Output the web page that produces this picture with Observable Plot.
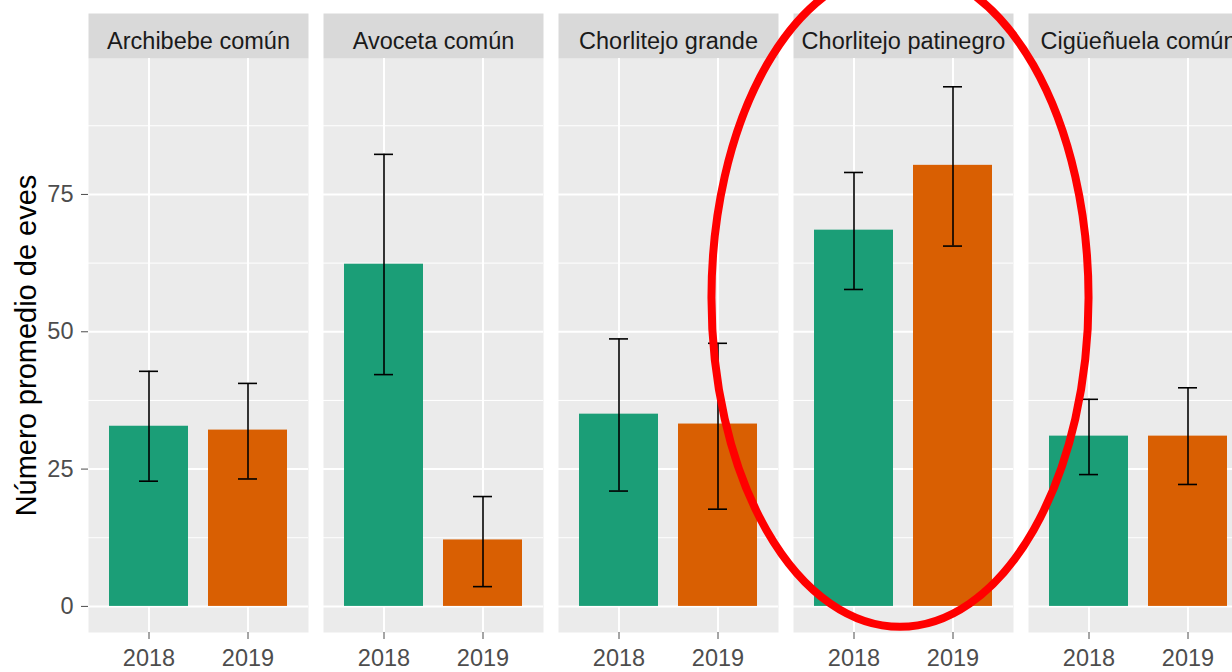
<!DOCTYPE html>
<html><head><meta charset="utf-8">
<script src="https://cdn.jsdelivr.net/npm/d3@7"></script>
<script src="https://cdn.jsdelivr.net/npm/@observablehq/plot@0.6"></script>
<style>
html,body{margin:0;padding:0;background:#fff;overflow:hidden;}
</style></head><body><div id="chart"></div>
<script>
const species = ["Archibebe común", "Avoceta común", "Chorlitejo grande", "Chorlitejo patinegro", "Cigüeñuela común"];
const years = ["2018", "2019"];
const mean2018 = [32.8, 62.3, 35.0, 68.5, 31.0];
const low2018  = [22.8, 42.2, 21.0, 57.7, 24.0];
const high2018 = [42.8, 82.3, 48.7, 79.0, 37.7];
const mean2019 = [32.1, 12.1, 33.2, 80.3, 31.0];
const low2019  = [23.2, 3.6, 17.7, 65.6, 22.2];
const high2019 = [40.6, 20.0, 47.9, 94.6, 39.8];
const yTicks = [0, 25, 50, 75];
const yMinorTicks = [12.5, 37.5, 62.5, 87.5];
const yTitle = "Número promedio de eves";
const colors = ["#1b9e77", "#d95f02"];
const highlight = "Chorlitejo patinegro";
const highlightCenterValue = 56.1;
const highlightHalfRange = 59.9;

const rows = [];
species.forEach((s, i) => {
  rows.push({species: s, year: years[0], mean: mean2018[i], lo: low2018[i], hi: high2018[i]});
  rows.push({species: s, year: years[1], mean: mean2019[i], lo: low2019[i], hi: high2019[i]});
});

const W = 1248, H = 672, mT = 58, mB = 40, mL = 88, mR = 0;
const panelH = H - mT - mB;
const fs = 23.5;

const plot = Plot.plot({
  width: W, height: H, marginTop: mT, marginBottom: mB, marginLeft: mL, marginRight: mR,
  style: {fontFamily: "'Liberation Sans', Arial, sans-serif", maxWidth: "none", background: "white"},
  fx: {domain: species, paddingInner: 15 / 235, paddingOuter: 0, axis: null, label: null},
  x: {domain: years, paddingInner: 0.2, paddingOuter: 0.2, label: null},
  y: {domain: [-4.75, 99.75], label: null},
  color: {domain: years, range: colors},
  marks: [
    Plot.frame({fill: "#ebebeb", stroke: "none"}),
    Plot.frame({fill: "#d9d9d9", stroke: "none", insetTop: -45, insetBottom: panelH}),
    Plot.text(species, {fx: d => d, text: d => d, frameAnchor: "top", dy: -17, fontSize: fs, fill: "#1a1a1a", lineAnchor: "middle"}),
    Plot.gridY({ticks: yMinorTicks, stroke: "white", strokeOpacity: 1, strokeWidth: 1}),
    Plot.gridY({ticks: yTicks, stroke: "white", strokeOpacity: 1, strokeWidth: 2}),
    Plot.gridX({stroke: "white", strokeOpacity: 1, strokeWidth: 2}),
    Plot.barY(rows, {fx: "species", x: "year", y: "mean", fill: "year"}),
    Plot.ruleX(rows, {fx: "species", x: "year", y1: "lo", y2: "hi", stroke: "black", strokeWidth: 1.6}),
    Plot.tickY(rows, {fx: "species", x: "year", y: "lo", stroke: "black", strokeWidth: 1.6, insetLeft: 30, insetRight: 30}),
    Plot.tickY(rows, {fx: "species", x: "year", y: "hi", stroke: "black", strokeWidth: 1.6, insetLeft: 30, insetRight: 30}),
    Plot.axisY({ticks: yTicks, tickSize: 7, tickPadding: 8, fontSize: fs, color: "#4d4d4d", label: null}),
    Plot.axisX({tickSize: 7, tickPadding: 10, fontSize: fs, color: "#4d4d4d", label: null}),
    Plot.text([yTitle], {fx: () => species[0], text: d => d, frameAnchor: "left", textAnchor: "middle", rotate: -90, dx: -62, fontSize: 29, fill: "black", lineAnchor: "middle"})
  ]
});

const fxScale = plot.scale("fx");
const yScale = plot.scale("y");
const cx = fxScale.apply(highlight) + fxScale.bandwidth / 2 - 3;
const cy = yScale.apply(highlightCenterValue);
const ry = yScale.apply(highlightCenterValue - highlightHalfRange) - cy;
const rx = fxScale.bandwidth * 0.857;
d3.select(plot).append("ellipse")
  .attr("cx", cx).attr("cy", cy).attr("rx", rx).attr("ry", ry)
  .attr("fill", "none").attr("stroke", "#ff0000").attr("stroke-width", 8);

document.getElementById("chart").appendChild(plot);
</script></body></html>
